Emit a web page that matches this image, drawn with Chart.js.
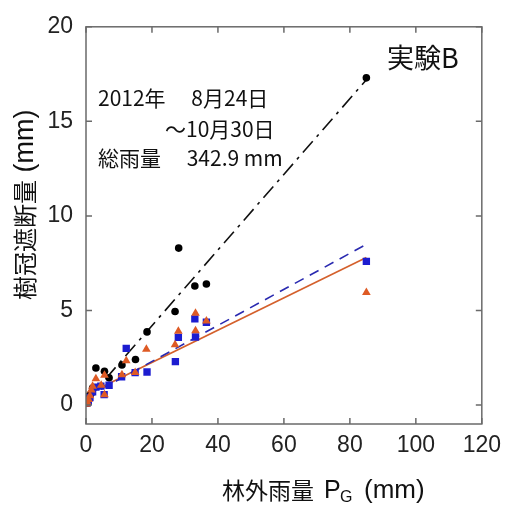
<!DOCTYPE html>
<html>
<head>
<meta charset="utf-8">
<script src="https://cdn.jsdelivr.net/npm/chart.js@4"></script>
<style>
  body { margin: 0; background: #fff; }
  #wrap { width: 509px; height: 507px; }
</style>
</head>
<body>
<div id="wrap"><canvas id="chart" width="509" height="507"></canvas></div>
<script>
// rainfall outside forest (x) vs canopy interception (y), mm
const blackPts = [[0.3,0.1],[0.6,0.3],[1.0,0.5],[1.5,0.6],[2.0,0.9],[3.0,1.96],[5.6,1.79],[7.0,1.44],
  [10.9,2.12],[15.0,2.41],[18.5,3.87],[27.0,4.95],[28.1,8.3],[33.0,6.3],[36.5,6.4],[85,17.3]];
const bluePts = [[0.3,0.1],[0.7,0.2],[1.2,0.4],[2.0,0.7],[3.0,0.95],[4.5,1.0],[5.5,0.55],[7.0,1.05],
  [10.8,1.5],[12.2,3.0],[14.9,1.72],[18.5,1.75],[27.1,2.3],[28.0,3.58],[33.2,3.6],[33.0,4.56],[36.5,4.38],[85,7.6]];
const orangePts = [[0.1,0.05],[0.4,0.15],[0.8,0.3],[1.2,0.5],[1.6,0.8],[2.0,1.0],[3.0,1.39],[4.6,1.05],
  [5.6,1.58],[5.6,0.55],[10.9,1.6],[12.2,2.35],[14.9,1.72],[18.3,2.95],[27.0,3.19],[28.0,3.9],
  [33.2,3.93],[33.2,4.86],[36.5,4.45],[85,5.95]];
// regression line endpoints
const blackFit = [[0,0.2],[85,17.2]];
const blueFit = [[0,0.4],[85,8.5]];
const orangeFit = [[0,0.55],[85,7.8]];

const xTicks = [0, 20, 40, 60, 80, 100, 120];
const yTicks = [0, 5, 10, 15, 20];

const FONT = '"Liberation Sans", Arial, sans-serif';
const JFONT = '"Noto Sans CJK JP", "Liberation Sans", sans-serif';

function pts(a) { return a.map(p => ({ x: p[0], y: p[1] })); }

const framePlugin = {
  id: 'frame',
  afterDraw(chart) {
    const c = chart.ctx, a = chart.chartArea;
    const sx = chart.scales.x, sy = chart.scales.y;
    c.save();
    c.strokeStyle = '#6a6a6a';
    c.lineWidth = 1.5;
    c.strokeRect(a.left, a.top, a.right - a.left, a.bottom - a.top);
    c.beginPath();
    xTicks.forEach(v => {
      const px = sx.getPixelForValue(v);
      c.moveTo(px, a.bottom); c.lineTo(px, a.bottom - 6);
      c.moveTo(px, a.top); c.lineTo(px, a.top + 6);
    });
    yTicks.forEach(v => {
      const py = sy.getPixelForValue(v);
      c.moveTo(a.left, py); c.lineTo(a.left + 6, py);
      c.moveTo(a.right, py); c.lineTo(a.right - 6, py);
    });
    c.stroke();

    c.fillStyle = '#111';
    // y title: 樹冠遮断量 (mm), bottom at 300 going up
    c.save();
    c.translate(25, 300);
    c.rotate(-Math.PI / 2);
    c.textAlign = 'left';
    c.textBaseline = 'middle';
    c.font = '24px ' + JFONT;
    c.fillText('樹冠遮断量', 0, 0);
    let w = c.measureText('樹冠遮断量').width;
    c.font = '27px ' + FONT;
    c.fillText(' (mm)', w, 1);
    c.restore();

    // x title with subscript
    c.textBaseline = 'middle';
    c.textAlign = 'left';
    const y = 490;
    c.font = '23px ' + JFONT;
    c.fillText('林外雨量', 222, y);
    c.font = '25px ' + FONT;
    c.fillText('P', 324, y + 1);
    c.font = '16px ' + FONT;
    c.fillText('G', 340, y + 8);
    c.font = '26px ' + FONT;
    c.fillText('(mm)', 364, y + 1);

    // annotations
    c.font = '21px ' + JFONT;
    c.fillText('2012年　 8月24日', 98, 98);
    c.fillText('〜10月30日', 165, 129);
    c.fillText('総雨量　 342.9 mm', 98, 158);
    c.font = '27px ' + JFONT;
    c.fillText('実験B', 387, 58);
    c.restore();
  }
};

createChart();

function createChart() {
  const ctx = document.getElementById('chart').getContext('2d');
  new Chart(ctx, {
    type: 'scatter',
    data: {
      datasets: [
        { data: pts(orangeFit), showLine: true, borderColor: '#d4602c', borderWidth: 1.6, pointRadius: 0, order: 5 },
        { data: pts(blueFit), showLine: true, borderColor: '#2a2ab0', borderWidth: 1.6, borderDash: [10, 7], pointRadius: 0, order: 4 },
        { data: pts(blackFit), showLine: true, borderColor: '#111', borderWidth: 1.6, borderDash: [15, 6, 3, 6], pointRadius: 0, order: 3 },
        { data: pts(blackPts), pointStyle: 'circle', pointRadius: 3.8, backgroundColor: '#000', borderColor: '#000', borderWidth: 0, order: 2 },
        { data: pts(bluePts), pointStyle: 'rect', pointRadius: 5.2, backgroundColor: '#1c1cd0', borderColor: '#1c1cd0', borderWidth: 0, order: 1 },
        { data: pts(orangePts), pointStyle: 'triangle', pointRadius: 5, backgroundColor: '#de5a24', borderColor: '#de5a24', borderWidth: 0, order: 0 }
      ]
    },
    options: {
      responsive: false,
      animation: false,
      layout: { padding: { top: 26, right: 25, left: 0, bottom: 0 } },
      plugins: { legend: { display: false }, tooltip: { enabled: false } },
      scales: {
        x: {
          min: 0, max: 120,
          afterFit: s => { s.height = 83; },
          afterBuildTicks: s => { s.ticks = xTicks.map(v => ({ value: v })); },
          grid: { display: false, drawTicks: false },
          border: { display: false },
          ticks: { padding: 8, color: '#222', font: { family: FONT, size: 23 }, maxRotation: 0 }
        },
        y: {
          min: -1, max: 20,
          afterFit: s => { s.width = 86; },
          afterBuildTicks: s => { s.ticks = yTicks.map(v => ({ value: v })); },
          grid: { display: false, drawTicks: false },
          border: { display: false },
          ticks: { padding: 13, color: '#222', font: { family: FONT, size: 23 } }
        }
      }
    },
    plugins: [framePlugin]
  });
}
</script>
</body>
</html>
